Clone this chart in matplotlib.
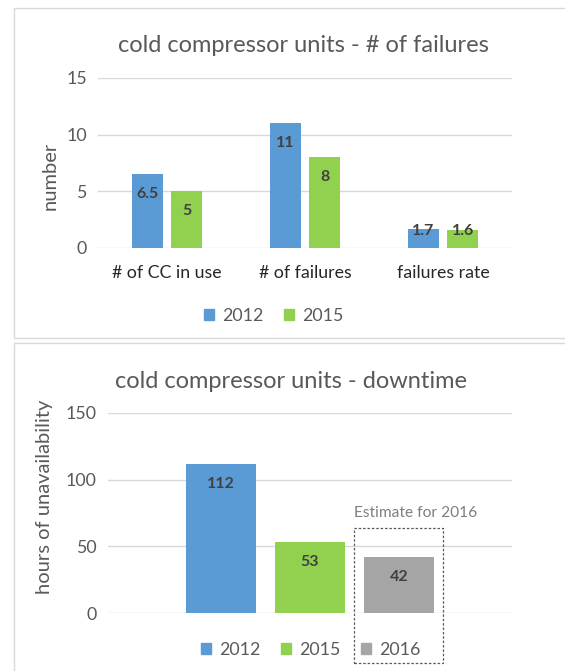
import matplotlib.pyplot as plt
from matplotlib.patches import Rectangle, Patch

# top chart data
categories = ['# of CC in use', '# of failures', 'failures rate']
fail_2012 = [6.5, 11, 1.7]
fail_2015 = [5, 8, 1.6]
fail_labels_2012 = ['6.5', '11', '1.7']
fail_labels_2015 = ['5', '8', '1.6']

# bottom chart data
years = ['2012', '2015', '2016']
downtime = [112, 53, 42]

BLUE = '#5B9BD5'
GREEN = '#92D050'
GRAY = '#A5A5A5'
TXT = '#595959'
GRID = '#D9D9D9'

W, H = 565, 671
plt.rcParams['font.family'] = ['Lato', 'DejaVu Sans']

fig = plt.figure(figsize=(W / 100, H / 100), dpi=100)


def fx(x):
    return x / W


def fy(y):
    return 1 - y / H


def ax_box(x0, y0, x1, y1):
    return [fx(x0), fy(y1), fx(x1) - fx(x0), fy(y0) - fy(y1)]


def style_ax(ax):
    for s in ax.spines.values():
        s.set_visible(False)
    ax.tick_params(length=0, colors=TXT, labelsize=12.8)
    ax.yaxis.grid(True, color=GRID, lw=1)
    ax.set_axisbelow(True)


def bar_labels(ax, rects, labels, px_per_unit):
    for r, lab in zip(rects, labels):
        hpx = r.get_height() * px_per_unit
        off = -min(20, hpx - 17)
        ax.annotate(lab, (r.get_x() + r.get_width() / 2, r.get_height()),
                    xytext=(0, off), textcoords='offset pixels',
                    ha='center', va='center', fontsize=11.5, fontweight='bold',
                    color='#404040')


# panel frames
fig.patches.append(Rectangle((fx(14), fy(338)), 1, fy(8) - fy(338), transform=fig.transFigure,
                             fill=False, ec=GRID, lw=1))
fig.patches.append(Rectangle((fx(14), fy(680)), 1, fy(343) - fy(680), transform=fig.transFigure,
                             fill=False, ec=GRID, lw=1))

leg_kw = dict(loc='center', frameon=False, fontsize=12.8, labelcolor=TXT,
              handlelength=0.58, handleheight=0.58, handletextpad=0.45, columnspacing=1.15)

# ---- top chart ----
ax1 = fig.add_axes(ax_box(98, 78, 512, 248))
style_ax(ax1)
x = range(len(categories))
w = 0.22
off = 0.1425
r1 = ax1.bar([i - off for i in x], fail_2012, w, color=BLUE)
r2 = ax1.bar([i + off for i in x], fail_2015, w, color=GREEN)
ax1.set_xlim(-0.5, 2.5)
ax1.set_ylim(0, 15)
ax1.set_yticks([0, 5, 10, 15])
ax1.set_xticks(list(x))
ax1.set_xticklabels(categories, color='#262626')
ax1.tick_params(axis='x', pad=12)
ax1.tick_params(axis='y', pad=8)
ax1.set_ylabel('number', color=TXT, fontsize=14.5, va='center')
ax1.yaxis.set_label_coords(-0.116, 0.424)
bar_labels(ax1, r1, fail_labels_2012, 170 / 15)
bar_labels(ax1, r2, fail_labels_2015, 170 / 15)
fig.text(fx(303), fy(46), 'cold compressor units - # of failures', ha='center', va='center',
         fontsize=17, color=TXT)
fig.legend([Patch(color=BLUE), Patch(color=GREEN)], ['2012', '2015'],
           bbox_to_anchor=(fx(273.5), fy(316)), ncol=2, **leg_kw)

# ---- bottom chart ----
ax2 = fig.add_axes(ax_box(108, 413, 512, 613))
style_ax(ax2)
w2 = 0.173
offs = [-0.22, 0, 0.22]
r3 = ax2.bar(offs, downtime, w2, color=[BLUE, GREEN, GRAY])
ax2.set_xlim(-0.5, 0.5)
ax2.set_ylim(0, 150)
ax2.set_yticks([0, 50, 100, 150])
ax2.set_xticks([])
ax2.tick_params(axis='y', pad=8)
ax2.set_ylabel('hours of unavailability', color=TXT, fontsize=14.5, va='center')
ax2.yaxis.set_label_coords(-0.156, 0.58)
bar_labels(ax2, r3, [str(v) for v in downtime], 200 / 150)
fig.text(fx(291), fy(382), 'cold compressor units - downtime', ha='center', va='center',
         fontsize=17, color=TXT)
fig.legend([Patch(color=c) for c in (BLUE, GREEN, GRAY)], years,
           bbox_to_anchor=(fx(310.5), fy(650)), ncol=3, **leg_kw)

# estimate box around the 2016 bar
ax2.add_patch(Rectangle((offs[2] - 0.11, -37.5), 0.22, 101.2, fill=False, ls=(0, (2, 1.5)),
                        ec='#595959', lw=0.9, clip_on=False))
ax2.text(offs[2] - 0.11, 75, 'Estimate for 2016', ha='left', va='center', fontsize=11.2,
         color='#7F7F7F', clip_on=False)

fig.savefig('out.png', dpi=100)
